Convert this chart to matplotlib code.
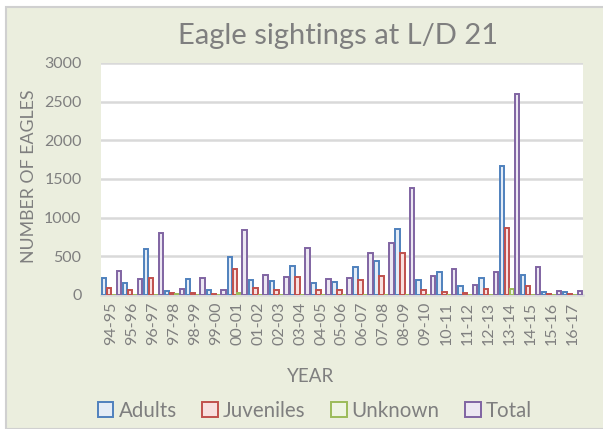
import matplotlib
matplotlib.use("Agg")
import matplotlib.pyplot as plt
import numpy as np
from matplotlib.patches import Rectangle

years = ["94-95", "95-96", "96-97", "97-98", "98-99", "99-00", "00-01", "01-02",
         "02-03", "03-04", "04-05", "05-06", "06-07", "07-08", "08-09", "09-10",
         "10-11", "11-12", "12-13", "13-14", "14-15", "15-16", "16-17"]
adults = [215, 160, 590, 50, 205, 60, 495, 190, 180, 380, 160, 165, 360, 435, 855, 190,
          300, 115, 220, 1670, 258, 35, 40]
juveniles = [95, 60, 215, 30, 30, 15, 330, 90, 60, 235, 65, 60, 195, 250, 540, 70,
             45, 30, 75, 865, 110, 15, 12]
unknown = [0, 0, 0, 10, 0, 0, 25, 0, 0, 0, 0, 0, 0, 0, 0, 0, 0, 0, 0, 75, 0, 0, 0]
total = [310, 210, 800, 75, 225, 70, 835, 265, 228, 605, 210, 215, 540, 670, 1385, 245,
         332, 135, 295, 2600, 365, 52, 50]

series = [("Adults", adults, "#4F81BD", "#E4ECF6"),
          ("Juveniles", juveniles, "#C0504D", "#F8E0DF"),
          ("Unknown", unknown, "#9BBB59", "#EEF4E2"),
          ("Total", total, "#8064A2", "#ECE7F2")]

BG = "#EBEEDE"
TXT = "#7F7F7F"
FONT = "Lato"
plt.rcParams["font.family"] = [FONT, "DejaVu Sans"]

W, H = 603, 429
fig = plt.figure(figsize=(W / 100, H / 100), dpi=100)
fig.patch.set_facecolor("white")

# chart area background
fig.patches.append(Rectangle((6 / W, 0), 1, 1 - 7 / H, transform=fig.transFigure,
                             facecolor=BG, edgecolor="#D0D0D0", linewidth=1.5, zorder=-10))

ax = fig.add_axes([101 / W, 1 - 295 / H, (583 - 101) / W, (295 - 63) / H])
ax.set_facecolor("white")

x = np.arange(len(years))
bw = 0.235
offsets = [-1.5 * bw, -0.5 * bw, 0.5 * bw, 1.5 * bw]
handles = []
for (name, vals, ec, fc), off in zip(series, offsets):
    b = ax.bar(x + off, vals, width=bw * 0.9, color=fc, edgecolor=ec, linewidth=1.4,
               label=name, zorder=3)
    handles.append(b)

ax.set_xlim(-0.5, len(years) - 0.5)
ax.set_ylim(0, 3000)
ax.set_yticks(range(0, 3001, 500))
ax.yaxis.grid(True, color="#D9D9D9", linewidth=1.8, zorder=0)
ax.set_axisbelow(True)
for s in ["top", "right", "left"]:
    ax.spines[s].set_visible(False)
ax.spines["bottom"].set_color("#D9D9D9")
ax.spines["bottom"].set_linewidth(1.8)
ax.tick_params(axis="both", length=0, colors=TXT, labelsize=11.5)
ax.tick_params(axis="y", pad=14)
ax.tick_params(axis="x", pad=5)
ax.set_xticks(x)
ax.set_xticklabels(years, rotation=90)

fig.text(338 / W, 1 - 36 / H, "Eagle sightings at L/D 21", ha="center", va="center",
         fontsize=21, color=TXT)
fig.text(311 / W, 1 - 377 / H, "YEAR", ha="center", va="center", fontsize=13.5, color=TXT)
fig.text(29 / W, 1 - 176 / H, "NUMBER OF EAGLES", ha="center", va="center", rotation=90,
         fontsize=12.8, color=TXT)

leg = fig.legend(handles=handles, loc="center", bbox_to_anchor=(315 / W, 1 - 411 / H),
                 ncol=4, frameon=False, fontsize=14.8, labelcolor=TXT,
                 handlelength=0.75, handleheight=0.75, handletextpad=0.25,
                 columnspacing=1.25, borderaxespad=0)

fig.savefig("out.png", dpi=100, facecolor=fig.get_facecolor())
